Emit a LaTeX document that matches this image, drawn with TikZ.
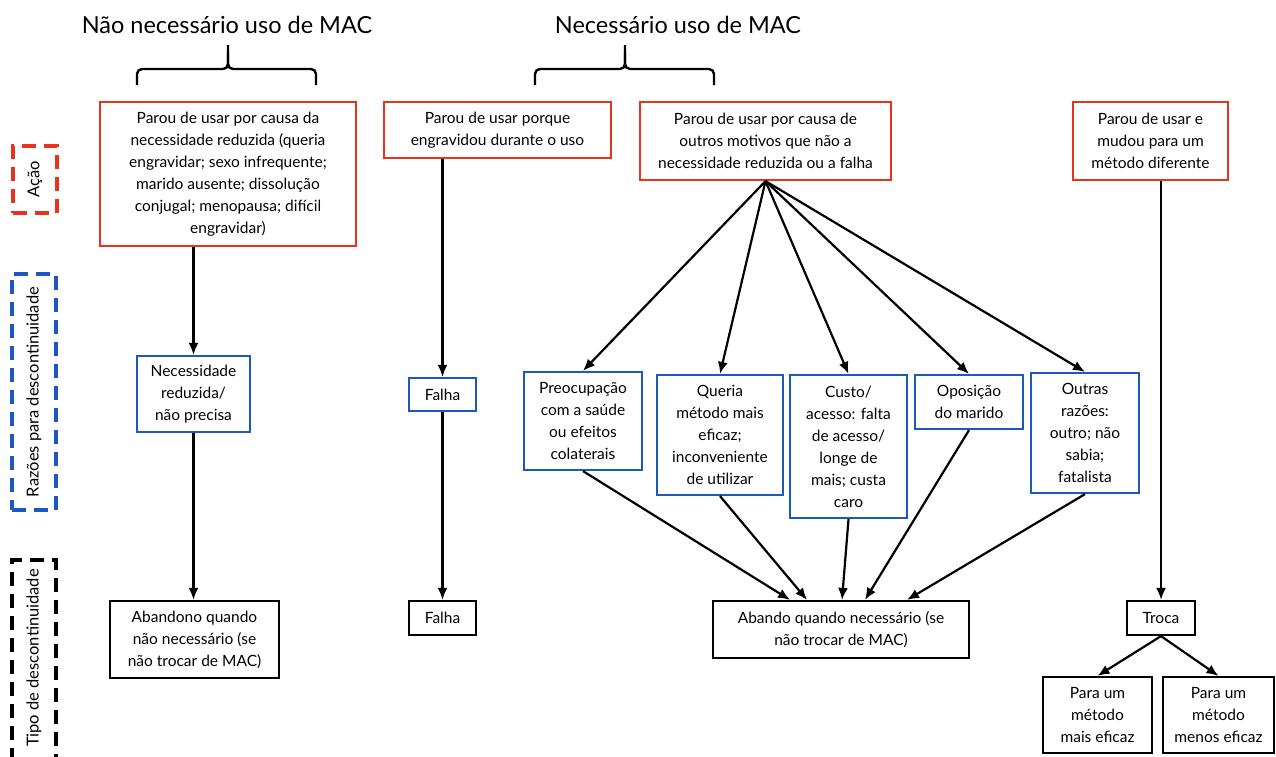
\documentclass[tikz,border=0pt]{standalone}
\usepackage{fontspec}
\setmainfont{Lato}
\usepackage{xcolor}
\usetikzlibrary{positioning, arrows.meta}

\definecolor{actred}{RGB}{232,50,28}
\definecolor{whyblue}{RGB}{28,88,196}

\begin{document}
\begin{tikzpicture}[
    x=1pt, y=-1pt,
    font=\fontsize{15.5}{22}\selectfont,
    box/.style={rectangle, draw, line width=2.2pt, align=center, inner sep=2pt},
    actbox/.style={box, draw=actred},
    whybox/.style={box, draw=whyblue},
    typebox/.style={box, draw=black},
    sidebox/.style={rectangle, line width=3.4pt, dash pattern=on 14pt off 8pt, minimum width=44pt, inner sep=0pt},
    sidetext/.style={font=\fontsize{16.5}{20}\selectfont},
    title/.style={font=\fontsize{23.5}{28}\selectfont},
    arrow/.style={-{Latex[length=12pt,width=10pt]}, line width=2.2pt},
    brace/.style={line width=2.4pt, rounded corners=5pt}
]
\useasboundingbox (0,0) rectangle (1276,756);

% Titles
\node[title] (notneeded) at (227,25) {Não necessário uso de MAC};
\node[title] (needed) at (678,25) {Necessário uso de MAC};

% Braces
\draw[brace] (137,85) |- (228,69) -- (228,45);
\draw[brace] (316,85) |- (228,69) -- (228,52);
\draw[brace] (535,85) |- (625,69) -- (625,45);
\draw[brace] (714,85) |- (625,69) -- (625,52);

% Side labels
\node[sidebox, draw=actred, minimum height=67pt, sidetext] (sideact) at (35,179.5) {\rotatebox{90}{Ação}};
\node[sidebox, draw=whyblue, minimum height=236pt, sidetext] (sidewhy) at (34,392) {\rotatebox{90}{Razões para descontinuidade}};
\node[sidebox, draw=black, minimum height=230pt] (sidetype) at (34,675) {};
\node[sidetext] (sidetypetext) at (34,658) {\rotatebox{90}{Tipo de descontinuidade}};

% Nodes: actions
\node[actbox, minimum width=256pt, minimum height=144pt] (reduced) at (228,174)
  {Parou de usar por causa da\\necessidade reduzida (queria\\engravidar; sexo infrequente;\\marido ausente; dissolução\\conjugal; menopausa; difícil\\engravidar)};
\node[actbox, minimum width=227pt, minimum height=56pt] (pregnant) at (497.5,130)
  {Parou de usar porque\\engravidou durante o uso};
\node[actbox, minimum width=251pt, minimum height=78pt] (other) at (765.5,141)
  {Parou de usar por causa de\\outros motivos que não a\\necessidade reduzida ou a falha};
\node[actbox, minimum width=155pt, minimum height=78pt] (switch) at (1150.5,141)
  {Parou de usar e\\mudou para um\\método diferente};

% Nodes: reasons
\node[whybox, minimum width=113pt, minimum height=76pt] (noneed) at (193.5,394)
  {Necessidade\\reduzida/\\não precisa};
\node[whybox, minimum width=67pt, minimum height=33pt] (fail) at (442.5,394.5) {Falha};
\node[whybox, minimum width=118pt, minimum height=98pt] (health) at (583,421)
  {Preocupação\\com a saúde\\ou efeitos\\colaterais};
\node[whybox, minimum width=126pt, minimum height=120pt] (effective) at (720,435)
  {Queria\\método mais\\eficaz;\\inconveniente\\de utilizar};
\node[whybox, minimum width=117pt, minimum height=143pt] (cost) at (848.5,446.5)
  {Custo/\\acesso: falta\\de acesso/\\longe de\\mais; custa\\caro};
\node[whybox, minimum width=108pt, minimum height=54pt] (husband) at (969,402)
  {Oposição\\do marido};
\node[whybox, minimum width=108pt, minimum height=120pt] (others) at (1085,433)
  {Outras\\razões:\\outro; não\\sabia;\\fatalista};

% Nodes: types
\node[typebox, minimum width=169pt, minimum height=77pt] (abandon) at (194.5,639.5)
  {Abandono quando\\não necessário (se\\não trocar de MAC)};
\node[typebox, minimum width=67pt, minimum height=34pt] (failure) at (442.5,618) {Falha};
\node[typebox, minimum width=256pt, minimum height=57pt] (abandonneed) at (841,629.5)
  {Abando quando necessário (se\\não trocar de MAC)};
\node[typebox, minimum width=68pt, minimum height=34pt] (trade) at (1161,618) {Troca};
\node[typebox, minimum width=109pt, minimum height=76pt] (better) at (1097.5,715)
  {Para um\\método\\mais eficaz};
\node[typebox, minimum width=111pt, minimum height=76pt] (worse) at (1218.5,715)
  {Para um\\método\\menos eficaz};

% Arrows
\draw[arrow] (reduced.south -| noneed.north) -- (noneed.north);
\draw[arrow] (noneed) -- (abandon.north -| noneed.south);
\draw[arrow] (pregnant.south -| fail.north) -- (fail.north);
\draw[arrow] (fail) -- (failure);
\draw[arrow] (other.south) -- (health.north);
\draw[arrow] (other.south) -- (effective.north);
\draw[arrow] (other.south) -- (cost.north);
\draw[arrow] (other.south) -- (husband.north);
\draw[arrow] (other.south) -- (others.north);
\draw[arrow] (health.south) -- ([xshift=-51pt]abandonneed.north);
\draw[arrow] (effective.south) -- ([xshift=-34pt]abandonneed.north);
\draw[arrow] (cost.south) -- ([xshift=1pt]abandonneed.north);
\draw[arrow] (husband.south) -- ([xshift=24pt]abandonneed.north);
\draw[arrow] (others.south) -- ([xshift=66pt]abandonneed.north);
\draw[arrow] (switch.south -| trade.north) -- (trade.north);
\draw[arrow] (trade.south) -- (better.north);
\draw[arrow] (trade.south) -- (worse.north);

\end{tikzpicture}
\end{document}
